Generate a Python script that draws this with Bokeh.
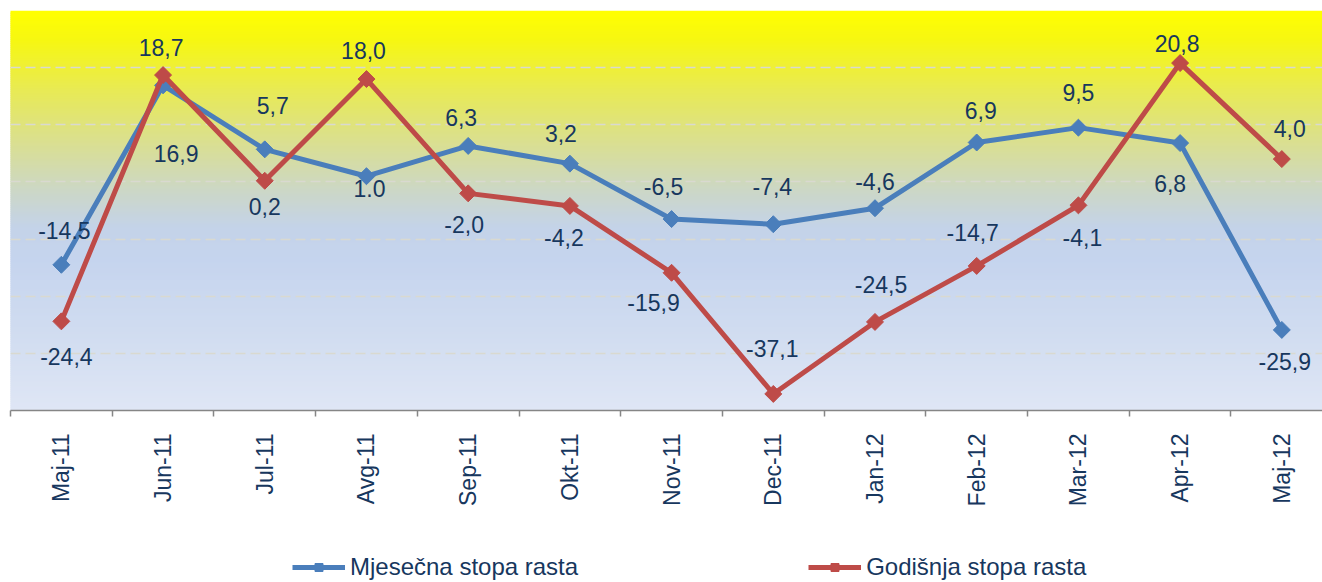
import math
from bokeh.plotting import figure
from bokeh.layouts import column
from bokeh.models import (ColumnDataSource, Range1d, FixedTicker, Legend, LegendItem)
from bokeh.core.properties import value
from bokeh.embed import file_html
from bokeh.resources import INLINE

# ---------------- data ----------------
categories = ["Maj-11", "Jun-11", "Jul-11", "Avg-11", "Sep-11", "Okt-11", "Nov-11",
              "Dec-11", "Jan-12", "Feb-12", "Mar-12", "Apr-12", "Maj-12"]
monthly = [-14.5, 16.9, 5.7, 1.0, 6.3, 3.2, -6.5, -7.4, -4.6, 6.9, 9.5, 6.8, -25.9]
annual = [-24.4, 18.7, 0.2, 18.0, -2.0, -4.2, -15.9, -37.1, -24.5, -14.7, -4.1, 20.8, 4.0]
monthly_labels = ["-14.5", "16,9", "5,7", "1.0", "6,3", "3,2", "-6,5", "-7,4", "-4,6",
                  "6,9", "9,5", "6,8", "-25,9"]
annual_labels = ["-24,4", "18,7", "0,2", "18,0", "-2,0", "-4,2", "-15,9", "-37,1", "-24,5",
                 "-14,7", "-4,1", "20,8", "4,0"]
series_names = ["Mjesečna stopa rasta", "Godišnja stopa rasta"]
y_grid_ticks = [-40, -30, -20, -10, 0, 10, 20, 30]

# ---------------- style ----------------
FONT = "Liberation Sans"
TXT = "#17375E"
BLUE = "#4A7EBB"
RED = "#BE4B48"
# label offsets in screen pixels (dx, dy; dy positive = down)
monthly_dx = [3, 13, 8, 3, -7, -9, -8, -1, 0, 4, 0, -10, 3]
monthly_dy = [-34, 68, -44, 12, -28, -30, -33, -38, -27, -32, -35, 40, 32]
annual_dx = [5, -2, 0, -3, -4, -6, -18, -1, 6, -4, 4, -3, 8]
annual_dy = [35, -28, 26, -29, 31, 32, 30, -45, -37, -33, 32, -20, -31]

p = figure(frame_width=1312, frame_height=400, output_backend="svg", toolbar_location=None,
           x_range=Range1d(-0.5, 12.40), y_range=Range1d(-40, 30),
           min_border_left=10, min_border_top=10, min_border_right=0, min_border_bottom=0)
p.outline_line_color = None
p.background_fill_color = "white"
p.border_fill_color = "white"

# background gradient drawn as thin bands
stops = [(0.0, "#FFFF00"), (0.075, "#F6F712"), (0.2, "#E8EA55"), (0.32, "#DBE08C"),
         (0.45, "#CCD7C6"), (0.54, "#C4D3E8"), (0.62, "#C5D4EE"), (0.8, "#D0DCF0"),
         (1.0, "#DFE6F5")]


def hex2rgb(h):
    return tuple(int(h[i:i + 2], 16) for i in (1, 3, 5))


def color_at(f):
    for (f0, c0), (f1, c1) in zip(stops[:-1], stops[1:]):
        if f0 <= f <= f1:
            t = (f - f0) / (f1 - f0) if f1 > f0 else 0
            a, b = hex2rgb(c0), hex2rgb(c1)
            return "#%02x%02x%02x" % tuple(round(a[i] + (b[i] - a[i]) * t) for i in range(3))
    return stops[-1][1]


N = 200
ytop, ybot = p.y_range.end, p.y_range.start
tops, bots, cols = [], [], []
for i in range(N):
    f0, f1 = i / N, (i + 1) / N
    tops.append(ytop - (ytop - ybot) * f0)
    bots.append(max(ybot, ytop - (ytop - ybot) * f1 - 0.25))
    cols.append(color_at((f0 + f1) / 2))
p.quad(left=-1, right=14, top=tops, bottom=bots, fill_color=cols, line_color=None, level="image")

# grid
p.xgrid.visible = False
p.ygrid.ticker = FixedTicker(ticks=y_grid_ticks)
p.ygrid.grid_line_color = "#D9D9D0"
p.ygrid.grid_line_dash = "10 5"
p.ygrid.grid_line_width = 1.5

# axes
p.yaxis.visible = False
xs = list(range(len(categories)))
ax = p.xaxis[0]
ax.ticker = FixedTicker(ticks=xs, minor_ticks=[i - 0.5 for i in range(len(categories) + 1)])
ax.major_label_overrides = {i: c for i, c in enumerate(categories)}
ax.major_label_orientation = math.pi / 2
ax.major_tick_line_color = None
ax.major_tick_out = 0
ax.major_tick_in = 0
ax.minor_tick_line_color = "#868686"
ax.minor_tick_out = 6
ax.minor_tick_in = 0
ax.minor_tick_line_width = 1.5
ax.axis_line_color = "#868686"
ax.axis_line_width = 1.5
ax.major_label_standoff = 17
ax.major_label_text_font = FONT
ax.major_label_text_font_size = "23px"
ax.major_label_text_color = TXT

# series
src_m = ColumnDataSource(dict(x=xs, y=monthly, t=monthly_labels, dx=monthly_dx, dy=monthly_dy))
src_a = ColumnDataSource(dict(x=xs, y=annual, t=annual_labels, dx=annual_dx, dy=annual_dy))

p.line("x", "y", source=src_m, line_color=BLUE, line_width=5)
p.scatter("x", "y", source=src_m, marker="square", angle=math.pi / 4, size=12,
          fill_color=BLUE, line_color=BLUE)
p.line("x", "y", source=src_a, line_color=RED, line_width=5)
p.scatter("x", "y", source=src_a, marker="square", angle=math.pi / 4, size=12,
          fill_color=RED, line_color=RED)

for src in (src_m, src_a):
    p.text("x", "y", text="t", source=src, x_offset="dx", y_offset="dy",
           text_align="center", text_baseline="middle", text_font=value(FONT),
           text_font_size="23px", text_color=TXT)

# ---------------- legend strip below the chart ----------------
LEG_H = 72
q = figure(frame_width=1312, frame_height=LEG_H, output_backend="svg", toolbar_location=None,
           x_range=Range1d(0, 1), y_range=Range1d(0, 1),
           x_axis_location=None, y_axis_location=None,
           min_border_left=10, min_border_top=0, min_border_right=0, min_border_bottom=0)
q.outline_line_color = None
q.grid.visible = False
q.border_fill_color = "white"
q.background_fill_color = "white"
# swatch renderers: same series, plotted against this strip's own (off-range) scale
items = []
for name, color, vals in zip(series_names, (BLUE, RED), (monthly, annual)):
    sw = ColumnDataSource(dict(x=[v + 100 for v in xs], y=[v + 100 for v in vals]))
    r1 = q.line("x", "y", source=sw, line_color=color, line_width=5)
    r2 = q.scatter("x", "y", source=sw, marker="square", angle=math.pi / 4, size=12,
                   fill_color=color, line_color=color)
    items.append(LegendItem(label=name, renderers=[r1, r2]))
legend = Legend(items=items, orientation="horizontal", location=(282, 0), spacing=230,
                glyph_width=53, glyph_height=20, label_standoff=5, padding=0, margin=0,
                border_line_color=None, background_fill_alpha=0,
                label_text_font=FONT, label_text_font_size="24px", label_text_color=TXT)
q.add_layout(legend, "center")

layout = column(p, q, spacing=0)
open("out.html", "w").write(file_html(layout, INLINE))
